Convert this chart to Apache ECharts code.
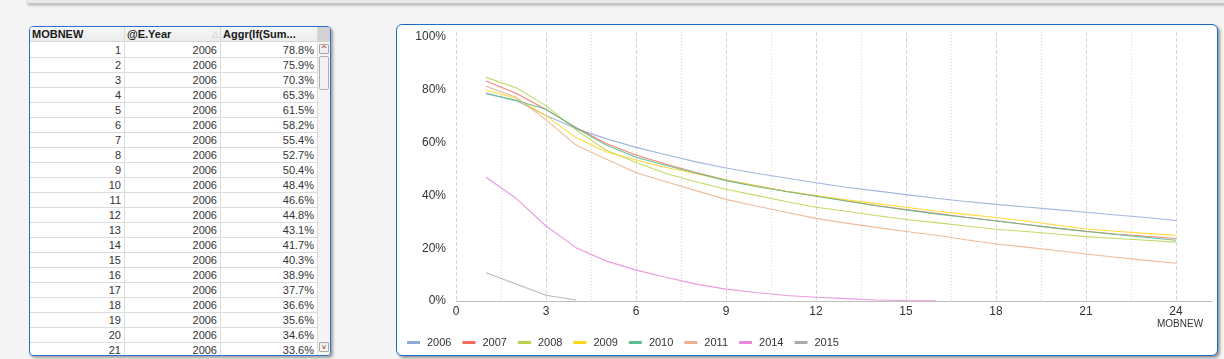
<!DOCTYPE html>
<html>
<head>
<meta charset="utf-8">
<script src="https://cdn.jsdelivr.net/npm/echarts@6/dist/echarts.min.js"></script>
<style>
html,body{margin:0;padding:0;width:1224px;height:359px;overflow:hidden;background:#f4f4f4;font-family:"Liberation Sans",Arial,sans-serif;}
#topbar{position:absolute;left:28px;top:-6px;width:1210px;height:9px;background:#e9e9e9;border-bottom:1px solid #c8c8c8;box-shadow:0 1px 3px rgba(0,0,0,.35);}
#tbl{position:absolute;left:29px;top:26px;width:300px;height:328px;border:1px solid #2b72c9;border-radius:4px;background:#fff;box-shadow:2px 2px 3px rgba(0,0,0,.35);overflow:hidden;}
#tbl div{position:absolute;box-sizing:border-box;white-space:nowrap;}
#frame{position:absolute;left:396px;top:24px;width:820px;height:330px;border:1.5px solid #1a6cc6;border-radius:6px;background:#fff;box-shadow:2px 2px 3px rgba(0,0,0,.4);}
#chart{position:absolute;left:397px;top:25px;width:820px;height:330px;}
</style>
</head>
<body>
<div id="topbar"></div>
<div id="tbl"></div>
<div id="frame"></div>
<div id="chart"></div>
<script>
// ---------- data ----------
const mob = [1,2,3,4,5,6,7,8,9,10,11,12,13,14,15,16,17,18,19,20,21,22,23,24];
const years = ['2006','2007','2008','2009','2010','2011','2014','2015'];
const y2006 = [78.8,75.9,70.3,65.3,61.5,58.2,55.4,52.7,50.4,48.4,46.6,44.8,43.1,41.7,40.3,38.9,37.7,36.6,35.6,34.6,33.6,32.6,31.6,30.5];
const y2007 = [83.3,78.7,72.5,65.7,59.7,55.3,51.8,48.7,45.8,43.6,41.6,39.8,38.0,36.2,34.6,33.2,31.7,30.4,29.0,27.6,26.4,25.4,24.5,23.7];
const y2008 = [84.7,80.8,74.0,64.8,57.2,52.5,48.3,45.2,42.3,40.0,37.7,35.5,34.0,32.4,30.9,29.7,28.4,27.2,26.3,25.4,24.4,23.7,23.0,22.3];
const y2009 = [79.8,76.8,70.2,61.9,56.5,53.4,50.6,48.2,45.8,43.6,41.6,39.9,38.3,36.9,35.5,34.1,32.8,31.6,30.3,28.8,27.3,26.4,25.6,24.9];
const y2010 = [78.5,76.0,72.6,65.5,59.1,54.5,51.3,48.5,45.6,43.4,41.5,39.7,37.9,36.1,34.5,33.0,31.6,30.3,29.0,27.6,26.3,25.2,24.1,23.0];
const y2011 = [81.3,77.2,68.6,59.1,53.8,48.6,45.2,41.8,38.5,36.0,33.6,31.3,29.5,27.9,26.3,24.9,23.2,21.6,20.4,19.1,17.8,16.6,15.4,14.3];
const y2014 = [46.9,38.9,28.4,20.2,15.2,11.7,9.0,6.4,4.5,3.2,2.1,1.4,0.9,0.4,0.2,0.1];
const y2015 = [10.7,6.4,2.2,0.4];
const xTicks = [0,3,6,9,12,15,18,21,24];
const yTicks = [0,20,40,60,80,100];
const colors = ['#8eaad4','#f26d5d','#b8d44c','#ffd41f','#5dbd8f','#eab08c','#e888d8','#aaaaaa'];

// ---------- table (left object) ----------
const tableHeaders = ['MOBNEW','@E.Year','Aggr(If(Sum...'];
const tableRows = y2006.slice(0,21).map((v,i)=>[String(mob[i]),'2006',v.toFixed(1)+'%']);
(function(){
  const t = document.getElementById('tbl');
  const colX = [0,95,191,288];
  const add = (css, text) => { const d=document.createElement('div'); d.style.cssText=css; if(text!==undefined) d.textContent=text; t.appendChild(d); return d; };
  // header
  add('left:0;top:0;width:288px;height:15px;background:linear-gradient(#f7f7f7,#ececec);border-bottom:1px solid #d4d4d4;');
  for(let c=0;c<3;c++){
    add(`left:${colX[c]}px;top:0;width:${colX[c+1]-colX[c]}px;height:15px;border-right:1px solid #d8d8d8;padding-left:2px;font:bold 11px "Liberation Sans",Arial,sans-serif;line-height:15px;color:#1a1a1a;overflow:hidden;`, tableHeaders[c]);
  }
  add('left:182px;top:1px;width:9px;height:13px;font:9px "DejaVu Sans",sans-serif;line-height:13px;color:#c4c4c4;', '\u25B3');
  // rows
  tableRows.forEach((r,i)=>{
    const top = 16 + i*15;
    for(let c=0;c<3;c++){
      add(`left:${colX[c]}px;top:${top}px;width:${colX[c+1]-colX[c]}px;height:15px;border-right:1px solid #dcdcdc;border-bottom:1px solid #dcdcdc;text-align:right;padding-right:3px;font:11px "Liberation Sans",Arial,sans-serif;line-height:14px;color:#333;`, r[c]);
    }
  });
  // scrollbar
  add('left:288px;top:0;width:12px;height:15px;background:#d2d2d2;');
  add('left:288px;top:15px;width:12px;height:313px;background:#f4f4f4;');
  add('left:289px;top:17px;width:10px;height:10px;background:#f0f0f0;border:1px solid #a8a8a8;border-radius:1px;font:8px "DejaVu Sans",sans-serif;line-height:10px;text-align:center;color:#8b2020;', '^');
  add('left:289px;top:29px;width:10px;height:34px;background:#f2f2f2;border:1px solid #b0b0b0;border-radius:2px;');
  add('left:289px;top:315px;width:10px;height:10px;background:#f0f0f0;border:1px solid #a8a8a8;border-radius:1px;font:7px "DejaVu Sans",sans-serif;line-height:9px;text-align:center;color:#8b2020;', 'v');
})();

// ---------- chart ----------
const seriesValues = [y2006,y2007,y2008,y2009,y2010,y2011,y2014,y2015];
const chart = echarts.init(document.getElementById('chart'), null, {renderer:'canvas'});
const font = '"Liberation Sans", Arial, sans-serif';
chart.setOption({
  animation:false,
  color:colors,
  grid:[
    {left:59, top:12, width:756, height:264},
    {left:59, top:7, width:720, height:269}
  ],
  xAxis:[
    {type:'value', gridIndex:0, min:0, max:25.2, interval:3,
     axisLine:{show:true, lineStyle:{color:'#bdbdbd', width:1}},
     axisTick:{show:false},
     axisLabel:{color:'#333', fontSize:12, fontFamily:font, margin:5, showMaxLabel:false,
       formatter:v=>xTicks.includes(v)?String(v):''},
     splitLine:{show:false}},
    {type:'value', gridIndex:1, min:0, max:24, interval:3,
     axisLine:{show:false}, axisTick:{show:false}, axisLabel:{show:false},
     splitLine:{show:true, lineStyle:{color:'#d6d6d6', type:[4,2], width:1}},
     minorTick:{show:false, splitNumber:2},
     minorSplitLine:{show:true, lineStyle:{color:'#d6d6d6', type:[1,2], width:1}}}
  ],
  yAxis:[
    {type:'value', gridIndex:0, min:0, max:100, interval:20,
     axisLine:{show:false}, axisTick:{show:false}, splitLine:{show:false},
     axisLabel:{color:'#333', fontSize:12, fontFamily:font, margin:10,
       formatter:v=>yTicks.includes(v)?v+'%':''}},
    {type:'value', gridIndex:1, min:0, max:100, show:false, splitLine:{show:false}}
  ],
  legend:{
    data:years, left:10, top:312, padding:0, icon:'rect', itemWidth:13, itemHeight:3, itemGap:11,
    textStyle:{color:'#333', fontSize:11, fontFamily:font, padding:[0,0,0,2]}
  },
  graphic:[
    {type:'text', left:760, top:294, style:{text:'MOBNEW', font:'10px "Liberation Sans", Arial, sans-serif', fill:'#333'}}
  ],
  series: years.map((y,i)=>({
    name:y, type:'line', xAxisIndex:0, yAxisIndex:0,
    data: seriesValues[i].map((v,k)=>[mob[k], v]),
    showSymbol:false, symbol:'none',
    lineStyle:{width:1.1, opacity:0.85},
    emphasis:{disabled:true}
  }))
});
</script>
</body>
</html>
